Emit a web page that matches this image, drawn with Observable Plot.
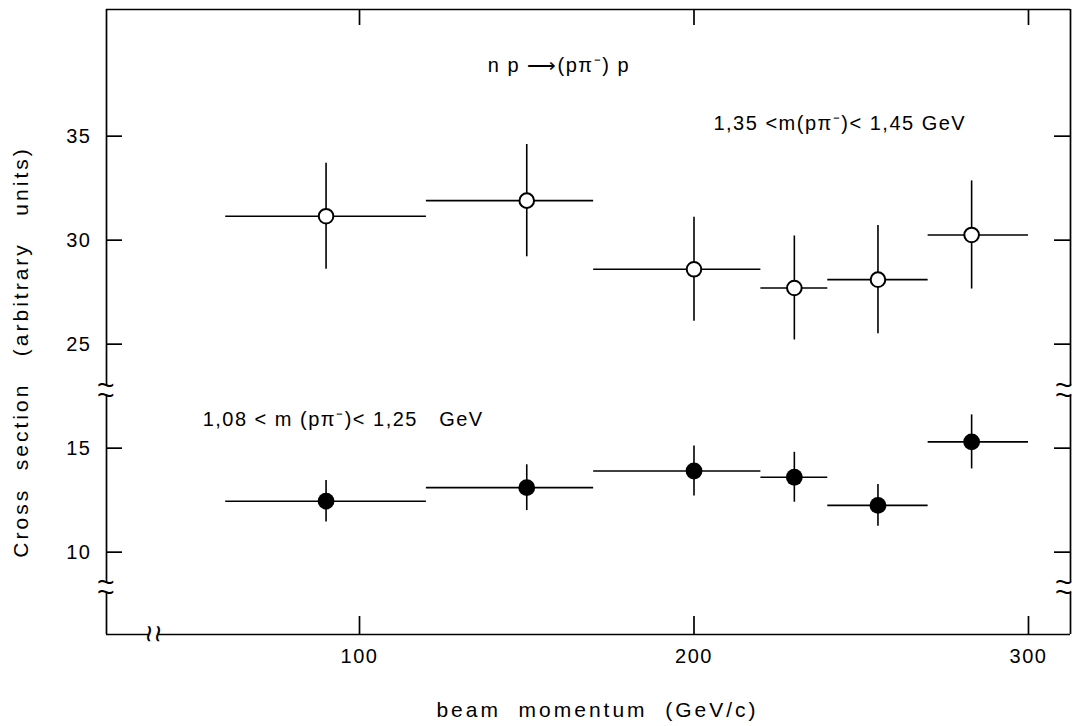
<!DOCTYPE html>
<html>
<head>
<meta charset="utf-8">
<script src="https://cdn.jsdelivr.net/npm/d3@7"></script>
<script src="https://cdn.jsdelivr.net/npm/@observablehq/plot@0.6"></script>
<style>
  html, body { margin: 0; padding: 0; background: #fff; }
  #chart svg { display: block; }
</style>
</head>
<body>
<div id="chart"></div>
<script>
// ---------- data ----------
const momentumTicks = [100, 200, 300];
const crossSectionTicks = [10, 15, 25, 30, 35];
const binCenter = [90, 150, 200, 230, 255, 283];
const binLow    = [60, 120, 170, 220, 240, 270];
const binHigh   = [120, 170, 220, 240, 270, 300];
// 1,35 < m(p pi-) < 1,45 GeV  (open circles)
const highMassValue = [31.15, 31.9, 28.6, 27.7, 28.1, 30.25];
const highMassError = [2.55, 2.7, 2.5, 2.5, 2.6, 2.6];
// 1,08 < m(p pi-) < 1,25 GeV  (filled circles)
const lowMassValue = [12.45, 13.1, 13.9, 13.6, 12.25, 15.3];
const lowMassError = [1.0, 1.1, 1.2, 1.2, 1.0, 1.3];

// ---------- broken y axis: values above 20 are shifted down by 5 ----------
const yCut = 20, yShift = 5;
const yPos = v => (v > yCut ? v - yShift : v);

// ---------- layout ----------
const W = 1074, H = 726;
const mL = 106, mR = 4, mT = 9, mB = 92;
const xDomain = [24.36, 312.56];
const yDomain = [6.04, 36.09];
const pxX = (W - mL - mR) / (xDomain[1] - xDomain[0]);
const pxY = (H - mT - mB) / (yDomain[1] - yDomain[0]);
const tickLen = 16;

// axis-break places (axis units)
const yBreaks = [[8.05, 8.55], [17.55, 18.0]];
const xBreak = [37.0, 39.7];

const rows = (vals, errs) => binCenter.map((x, i) => ({
  x, lo: binLow[i], hi: binHigh[i], v: vals[i], e: errs[i]
}));
const high = rows(highMassValue, highMassError);
const low = rows(lowMassValue, lowMassError);

const vSegments = [
  [yDomain[0], yBreaks[0][0]],
  [yBreaks[0][1], yBreaks[1][0]],
  [yBreaks[1][1], yDomain[1]]
];
const hSegments = [[xDomain[0], xBreak[0]], [xBreak[1], xDomain[1]]];
const breakYs = yBreaks.flat();

const FONT = "Liberation Sans, Arial, sans-serif";
const sw = 1.7;
const sp = n => "\u00a0".repeat(n);
const xTitle = `beam${sp(2)}momentum${sp(2)}(GeV/c)`;
const yTitle = `Cross${sp(2)}section${sp(3)}(arbitrary${sp(3)}units)`;

const chart = Plot.plot({
  width: W, height: H,
  marginLeft: mL, marginRight: mR, marginTop: mT, marginBottom: mB,
  x: {domain: xDomain, axis: null},
  y: {domain: yDomain, axis: null},
  style: {fontFamily: FONT, fontSize: "20px", color: "black", background: "white", letterSpacing: "1.5px"},
  marks: [
    // frame
    Plot.ruleX(vSegments, {x: xDomain[0], y1: d => d[0], y2: d => d[1], stroke: "black", strokeWidth: sw}),
    Plot.ruleX(vSegments, {x: xDomain[1], y1: d => d[0], y2: d => d[1], stroke: "black", strokeWidth: sw}),
    Plot.ruleY(hSegments, {y: yDomain[0], x1: d => d[0], x2: d => d[1], stroke: "black", strokeWidth: sw}),
    Plot.ruleY([yDomain[1]], {x1: xDomain[0], x2: xDomain[1], stroke: "black", strokeWidth: sw}),
    // axis breaks
    Plot.text(breakYs, {x: xDomain[0], y: d => d, text: () => "~", fontSize: 30, fill: "black"}),
    Plot.text(breakYs, {x: xDomain[1], y: d => d, text: () => "~", fontSize: 30, dx: -6, fill: "black"}),
    Plot.text(xBreak, {x: d => d, y: yDomain[0], text: () => "~", fontSize: 30, rotate: 90, fill: "black"}),
    // ticks (inward)
    Plot.ruleY(crossSectionTicks, {y: yPos, x1: xDomain[0], x2: xDomain[0] + tickLen / pxX, stroke: "black", strokeWidth: sw}),
    Plot.ruleY(crossSectionTicks, {y: yPos, x1: xDomain[1] - tickLen / pxX, x2: xDomain[1], stroke: "black", strokeWidth: sw}),
    Plot.ruleX(momentumTicks, {x: d => d, y1: yDomain[0], y2: yDomain[0] + 18 / pxY, stroke: "black", strokeWidth: sw}),
    Plot.ruleX(momentumTicks, {x: d => d, y1: yDomain[1] - tickLen / pxY, y2: yDomain[1], stroke: "black", strokeWidth: sw}),
    // tick labels
    Plot.text(crossSectionTicks, {x: xDomain[0], y: yPos, text: d => String(d), textAnchor: "end", dx: -15, fontSize: 20, fill: "black"}),
    Plot.text(momentumTicks, {x: d => d, y: yDomain[0], text: d => String(d), dy: 22, fontSize: 20, fill: "black"}),
    // axis titles
    Plot.text([xTitle], {frameAnchor: "bottom", textAnchor: "middle", lineAnchor: "middle", dx: 9, dy: 76, fontSize: 21, fill: "black"}),
    Plot.text([yTitle], {frameAnchor: "left", textAnchor: "middle", lineAnchor: "middle", rotate: -90, dx: -85, dy: 30, fontSize: 21, fill: "black"}),
    // annotations
    Plot.text([`n${sp(1)}p${sp(1)}\u27F6(p\u03C0\u207B)${sp(1)}p`], {x: 159.6, y: 33.4, fontSize: 20, fill: "black"}),
    Plot.text([`1,35 <m(p\u03C0\u207B)< 1,45${sp(1)}GeV`], {x: 205.8, y: 30.6, textAnchor: "start", fontSize: 20, fill: "black"}),
    Plot.text([`1,08 < m${sp(1)}(p\u03C0\u207B)< 1,25${sp(3)}GeV`], {x: 53.1, y: 16.38, textAnchor: "start", fontSize: 20, fill: "black"}),
    // error bars
    Plot.ruleY(high, {y: d => yPos(d.v), x1: "lo", x2: "hi", stroke: "black", strokeWidth: 1.6}),
    Plot.ruleX(high, {x: "x", y1: d => yPos(d.v - d.e), y2: d => yPos(d.v + d.e), stroke: "black", strokeWidth: 1.6}),
    Plot.ruleY(low, {y: d => yPos(d.v), x1: "lo", x2: "hi", stroke: "black", strokeWidth: 1.6}),
    Plot.ruleX(low, {x: "x", y1: d => yPos(d.v - d.e), y2: d => yPos(d.v + d.e), stroke: "black", strokeWidth: 1.6}),
    // points
    Plot.dot(high, {x: "x", y: d => yPos(d.v), r: 7.3, fill: "white", stroke: "black", strokeWidth: 2}),
    Plot.dot(low, {x: "x", y: d => yPos(d.v), r: 8.4, fill: "black", stroke: "none"})
  ]
});
// wider letter spacing for the two axis titles, as in the original typesetting
d3.select(chart).selectAll("text")
  .filter(function() { return this.textContent === xTitle || this.textContent === yTitle; })
  .style("letter-spacing", "3px");
document.getElementById("chart").appendChild(chart);
</script>
</body>
</html>
